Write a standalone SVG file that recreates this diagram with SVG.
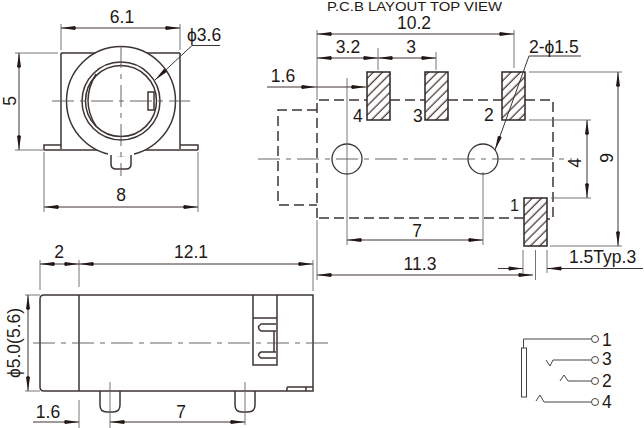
<svg xmlns="http://www.w3.org/2000/svg" width="644" height="428" viewBox="0 0 644 428">
<style>
text{font-family:"Liberation Sans",Arial,sans-serif;font-size:17.500px;fill:#231815}
.m{text-anchor:middle}
.o{fill:none;stroke:#3e3533;stroke-width:1.5}
.d{fill:none;stroke:#3e3533;stroke-width:1.5;stroke-dasharray:10 5}
.c{fill:none;stroke:#555;stroke-width:.9;stroke-dasharray:22 6 5 6}
.t{fill:none;stroke:#3e3533;stroke-width:1}
.e{fill:none;stroke:#666;stroke-width:.9}
.p{fill:url(#h);stroke:#2d2523;stroke-width:1.5}
.l{fill:none;stroke:#4a4240;stroke-width:1}
</style>
<defs>
<marker id="a" markerUnits="userSpaceOnUse" markerWidth="16" markerHeight="6" refX="15" refY="3" orient="auto-start-reverse"><path d="M0 3L1 1 L15 3L1 5Z" fill="#231815"/></marker>
<pattern id="h" patternUnits="userSpaceOnUse" width="6.500" height="6.500" patternTransform="rotate(45)"><rect width="6.500" height="6.500" fill="#fff"/><line x1="3" y1="0" x2="3" y2="6.500" stroke="#231815" stroke-width="1.100"/></pattern>
</defs>

<text x="327" y="10.500" textLength="175" lengthAdjust="spacingAndGlyphs" style="font-size:13.400px">P.C.B LAYOUT  TOP VIEW</text>

<g id="front-view">
<path class="o" d="M61 53H180M61 53V149M180 53V149M44 150V145H61M180 145H198V150M44 150H198"/>
<circle cx="121" cy="101" r="54.500" fill="#fff" stroke="#3e3533" stroke-width="1.500"/>
<path fill="#fff" stroke="none" d="M108 156H134V153H108Z"/>
<circle class="o" cx="121" cy="101" r="39"/>
<circle class="o" cx="121" cy="101" r="35.500"/>
<path class="o" d="M96 74Q80 101 96 126"/>
<rect class="o" x="148" y="92" width="6" height="18"/>
<path class="o" d="M111 155V164Q111 169 116 169H126Q131 169 131 164V155"/>
<path class="c" d="M52 101H190"/>
<path class="c" d="M121 46V176"/>
</g>

<g id="side-view">
<path class="o" d="M44 295H313V391H44Q40 391 40 387V299Q40 295 44 295Z"/>
<path class="o" d="M79 295V391"/>
<path class="o" d="M253 295V365H277V295M253 318H277"/>
<path class="o" d="M276 324H261Q256 327.500 261 331H276M276 352H261Q256 355 261 358H276M274 331V352"/>
<path class="o" d="M287 391V388Q287 387 288 387H313M306 387V391"/>
<path class="o" d="M100 391V405Q100 412 107 412H113Q120 412 120 405V391"/>
<path class="o" d="M235 391V405Q235 412 242 412H248Q255 412 255 405V391"/>
<path class="c" d="M33 343H330"/>
</g>

<g id="pcb-layout">
<path class="d" d="M317 218V100H367M390 100H425M448 100H502M525 100H553V219H547M524 218H317"/>
<path class="d" d="M317 110H278V205H317"/>
<rect class="p" x="367" y="72" width="23" height="48"/>
<rect class="p" x="425" y="72" width="23" height="48"/>
<rect class="p" x="502" y="72" width="23" height="48"/>
<rect class="p" x="524" y="198" width="23" height="48"/>
<circle cx="347" cy="159" r="15" fill="none" stroke="#3e3533" stroke-width="1.300"/>
<circle cx="483" cy="159" r="15" fill="none" stroke="#3e3533" stroke-width="1.300"/>
<path class="c" d="M258 159H572"/>
<text x="353" y="122">4</text>
<text x="413" y="122">3</text>
<text x="484" y="121">2</text>
<text x="510" y="211" style="font-size:16px">1</text>
</g>

<g id="schematic">
<rect class="l" x="521.500" y="348" width="5" height="49"/>
<path class="l" d="M523.500 348V339H591M546 360L550 366L553 360H591M560 381L564 375L568 381H591M536 401L540 395L544 402H591"/>
<circle class="l" cx="595" cy="339" r="3.500"/>
<circle class="l" cx="595" cy="360" r="3.500"/>
<circle class="l" cx="595" cy="381" r="3.500"/>
<circle class="l" cx="595" cy="402" r="3.500"/>
<text x="602" y="346">1</text>
<text x="602" y="365">3</text>
<text x="602" y="387">2</text>
<text x="602" y="408">4</text>
</g>

<g id="connectors">
<path class="e" d="M61 24V50M180 24V50M15 53H58M15 150H44M44 152V212M198 152V212"/>
<path class="t" d="M61 28H180" marker-start="url(#a)" marker-end="url(#a)"/>
<path class="t" d="M19 53V150" marker-start="url(#a)" marker-end="url(#a)"/>
<path class="t" d="M44 207H198" marker-start="url(#a)" marker-end="url(#a)"/>
<path class="t" d="M220 45.500H192L155 80" marker-end="url(#a)"/>
<path class="e" d="M317 30V100M514 30V68M378 48V70M436 52V70M347 78V245M483 172V245M529 72H622M529 120H591M551 198H591M550 246H622M317 220V280M523 250V273M547 250V273M535.500 250V280"/>
<path class="t" d="M317 34H514" marker-start="url(#a)" marker-end="url(#a)"/>
<path class="t" d="M317 58H378" marker-start="url(#a)" marker-end="url(#a)"/>
<path class="t" d="M378 58H436" marker-start="url(#a)" marker-end="url(#a)"/>
<path class="t" d="M267 87H316" marker-end="url(#a)"/>
<path class="t" d="M316 87H366" marker-end="url(#a)"/>
<path class="t" d="M347 240H483" marker-start="url(#a)" marker-end="url(#a)"/>
<path class="t" d="M317 275H533" marker-start="url(#a)" marker-end="url(#a)"/>
<path class="t" d="M498 268.500H523" marker-end="url(#a)"/>
<path class="t" d="M643 268.500H547" marker-end="url(#a)"/>
<path class="t" d="M618 72V246" marker-start="url(#a)" marker-end="url(#a)"/>
<path class="t" d="M587 120V198" marker-start="url(#a)" marker-end="url(#a)"/>
<path class="t" d="M581 56H529L495 150" marker-end="url(#a)"/>
<path class="e" d="M40 260V290M79 260V287M313 260V291M25 295H40M25 391H40M79 400V428M110 382V428M245 382V425"/>
<path class="t" d="M40 264H79" marker-start="url(#a)" marker-end="url(#a)"/>
<path class="t" d="M79 264H313" marker-start="url(#a)" marker-end="url(#a)"/>
<path class="t" d="M28 295V391" marker-start="url(#a)" marker-end="url(#a)"/>
<path class="t" d="M33 422H79" marker-end="url(#a)"/>
<path class="t" d="M110 422H245" marker-start="url(#a)" marker-end="url(#a)"/>
</g>

<g id="labels">
<text class="m" x="122" y="23">6.1</text>
<text x="187" y="41">ϕ3.6</text>
<text class="m" transform="translate(16 101) rotate(-90)">5</text>
<text class="m" x="121" y="201">8</text>
<text class="m" x="414" y="29">10.2</text>
<text class="m" x="348" y="53">3.2</text>
<text class="m" x="411" y="53">3</text>
<text class="m" x="283" y="82">1.6</text>
<text x="529" y="53">2-ϕ1.5</text>
<text class="m" x="417" y="237">7</text>
<text class="m" x="420" y="270">11.3</text>
<text x="569" y="263">1.5Typ.3</text>
<text class="m" transform="translate(581 163) rotate(-90)">4</text>
<text class="m" transform="translate(613 158) rotate(-90)">9</text>
<text class="m" x="59" y="258">2</text>
<text class="m" x="191" y="258">12.1</text>
<text class="m" transform="translate(20 343) rotate(-90)">ϕ5.0(5.6)</text>
<text class="m" x="48" y="418">1.6</text>
<text class="m" x="181" y="418">7</text>
</g>
</svg>
